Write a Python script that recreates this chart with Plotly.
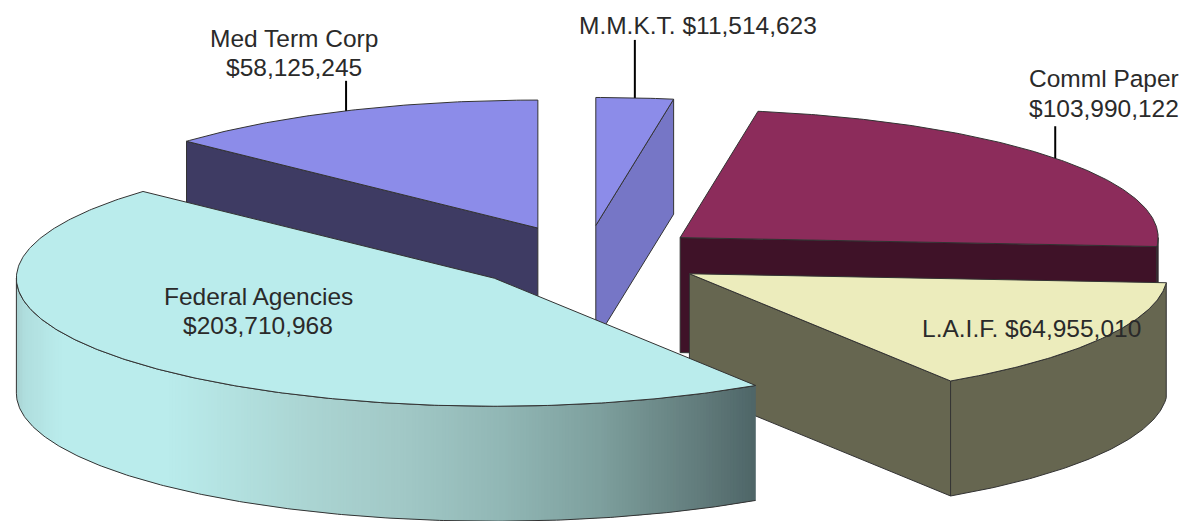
import numpy as np
import plotly.graph_objects as go

# Portfolio holdings, clockwise from twelve o'clock
categories = ["M.M.K.T.", "Comml Paper", "L.A.I.F.", "Federal Agencies", "Med Term Corp"]
holdings = [11514623, 103990122, 64955010, 203710968, 58125245]

# Fill colours per slice: top face, cut face, outer wall
top_colors = ["#8C8CE9", "#8C2C5B", "#ECECBC", "#BAECEC", "#8C8CE9"]
cut_colors = ["#7676C6", "#3F1228", "#666650", "#4F6668", "#3E3B63"]
wall_colors = ["#7676C6", "#3F1228", "#666650", None, "#3E3B63"]

# Oblique view of the exploded pie, in pixels
CX, CY = 586.0, 257.5
RX, RY = 478.0, 128.0
EXPLODE = 0.251
DEPTH = 115.0
EDGE = "#333333"

# Horizontal shading of the Federal Agencies wall
wall_x = [16, 24, 60, 170, 300, 400, 500, 600, 700, 755]
wall_r = [168, 176, 186, 186, 172, 162, 146, 126, 98, 79]
wall_g = [208, 222, 236, 236, 214, 201, 184, 160, 124, 102]
wall_b = [208, 222, 236, 236, 212, 199, 182, 158, 124, 104]

fig = go.Figure()


def polygon(xs, ys, fill, line=EDGE, width=1.0):
    fig.add_trace(go.Scatter(
        x=list(xs), y=list(ys), mode="lines", fill="toself", fillcolor=fill,
        line=dict(color=line, width=width), hoverinfo="skip", showlegend=False,
    ))


def stroke(xs, ys, color=EDGE, width=1.0):
    fig.add_trace(go.Scatter(
        x=list(xs), y=list(ys), mode="lines",
        line=dict(color=color, width=width), hoverinfo="skip", showlegend=False,
    ))


total = sum(holdings)
sweeps = [v / total * 360.0 for v in holdings]
starts = np.concatenate([[0.0], np.cumsum(sweeps)[:-1]])

slices = []
for name, value, start, sweep, tc, cc, wc in zip(
        categories, holdings, starts, sweeps, top_colors, cut_colors, wall_colors):
    mid = np.radians(start + sweep / 2)
    slices.append(dict(
        name=name, value=value, a=start, b=start + sweep, mid=mid,
        ax=CX + EXPLODE * RX * np.sin(mid), ay=CY - EXPLODE * RY * np.cos(mid),
        top=tc, cut=cc, wall=wc,
    ))


def rim(s, deg):
    t = np.radians(deg)
    return s["ax"] + RX * np.sin(t), s["ay"] - RY * np.cos(t)


def front_angle(s, x):
    # angle of the front half of the rim at screen position x
    return 180.0 - np.degrees(np.arcsin(np.clip((x - s["ax"]) / RX, -1, 1)))


def draw_cut(s, deg):
    x, y = rim(s, deg)
    polygon([s["ax"], x, x, s["ax"], s["ax"]],
            [s["ay"], y, y + DEPTH, s["ay"] + DEPTH, s["ay"]], s["cut"])


def draw_wall(s):
    lo, hi = max(s["a"], 90.0), min(s["b"], 270.0)
    if hi <= lo:
        return
    deg = np.linspace(lo, hi, max(int((hi - lo) * 2), 3))
    x, y = rim(s, deg)
    if s["wall"] is None:
        # shaded wall: overlapping strips of equal pixel width, left to right
        x_lo, x_hi = rim(s, hi)[0], rim(s, lo)[0]
        for xl in np.arange(x_lo, x_hi, 3.0):
            xr = min(xl + 5.0, x_hi)
            sub = np.linspace(front_angle(s, xl), front_angle(s, xr), 5)
            sx, sy = rim(s, sub)
            col = "rgb(%d,%d,%d)" % (np.interp(xl + 1.5, wall_x, wall_r),
                                     np.interp(xl + 1.5, wall_x, wall_g),
                                     np.interp(xl + 1.5, wall_x, wall_b))
            polygon(list(sx) + list(sx[::-1]) + [sx[0]],
                    list(sy) + list((sy + DEPTH)[::-1]) + [sy[0]],
                    col, line=col, width=0)
        stroke(list(x) + list(x[::-1]) + [x[0]],
               list(y + DEPTH) + list(y[::-1]) + [y[0]])
    else:
        polygon(list(x) + list(x[::-1]) + [x[0]],
                list(y) + list((y + DEPTH)[::-1]) + [y[0]], s["wall"])


def draw_top(s):
    deg = np.linspace(s["a"], s["b"], max(int(s["b"] - s["a"]) * 2, 4))
    x, y = rim(s, deg)
    polygon([s["ax"]] + list(x) + [s["ax"]], [s["ay"]] + list(y) + [s["ay"]], s["top"])


# Painter's order: back slices first, Federal Agencies last
by_name = {s["name"]: s for s in slices}
order = ["Med Term Corp", "M.M.K.T.", "Comml Paper", "L.A.I.F.", "Federal Agencies"]
for name in order:
    s = by_name[name]
    if np.sin(np.radians(s["a"])) < -1e-6:
        draw_cut(s, s["a"])
    if np.sin(np.radians(s["b"])) > 1e-6:
        draw_cut(s, s["b"])
    draw_wall(s)
    draw_top(s)

# Leader lines rise from the rim at each slice's middle angle
leader_rise = {"Med Term Corp": 30, "M.M.K.T.": 58, "Comml Paper": 32}
for name, rise in leader_rise.items():
    s = by_name[name]
    x, y = rim(s, np.degrees(s["mid"]))
    stroke([x, x], [y, y - rise], color="#000000", width=2)

# Label lines: text is built from the holdings themselves
label_lines = {
    "Med Term Corp": [(294, 38, "{n}"), (294, 67, "{v}")],
    "M.M.K.T.": [(698, 25, "{n} {v}")],
    "Comml Paper": [(1104, 78, "{n}"), (1104, 108, "{v}")],
    "L.A.I.F.": [(1031, 328, "{n} {v}")],
    "Federal Agencies": [(258, 296, "{n}"), (258, 325, "{v}")],
}
annotations = []
for name, rows in label_lines.items():
    amount = f"${by_name[name]['value']:,}"
    for x, y, tpl in rows:
        annotations.append(dict(
            x=x, y=y, xref="x", yref="y", showarrow=False, xanchor="center", yanchor="middle",
            text=tpl.format(n=name, v=amount),
            font=dict(family="Liberation Sans, Arial, sans-serif", size=24.5, color="#2a2a2a"),
        ))

fig.update_layout(
    width=1183, height=521, margin=dict(l=0, r=0, t=0, b=0),
    paper_bgcolor="white", plot_bgcolor="white", showlegend=False,
    xaxis=dict(range=[0, 1183], visible=False, fixedrange=True),
    yaxis=dict(range=[521, 0], visible=False, fixedrange=True),
    annotations=annotations,
)
fig.write_html("out.html", config=dict(displayModeBar=False))
